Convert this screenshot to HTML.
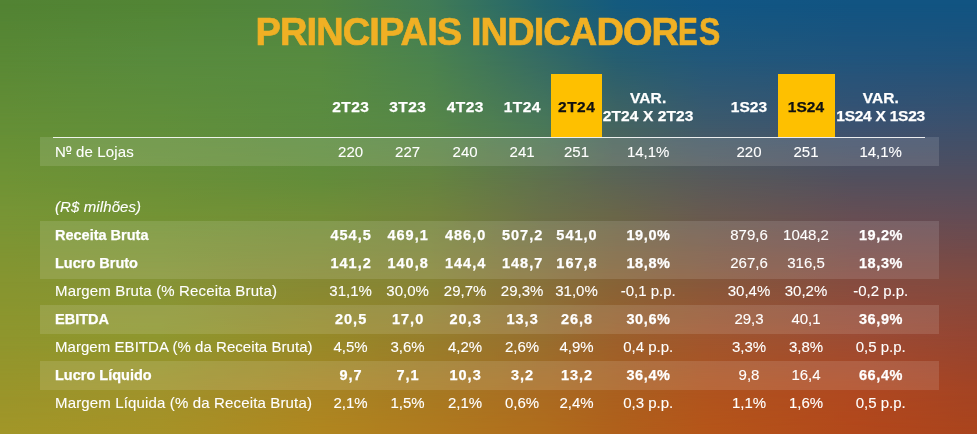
<!DOCTYPE html>
<html><head><meta charset="utf-8"><title>Principais Indicadores</title>
<style>
html,body{margin:0;padding:0;}
body{width:977px;height:434px;position:relative;overflow:hidden;font-family:"Liberation Sans",Arial,sans-serif;color:#fff;}
.txt{position:absolute;left:0;top:0;width:977px;height:434px;will-change:transform;}
.bgs{position:absolute;left:0;width:977px;}
.bgm{position:absolute;inset:0;-webkit-mask-image:linear-gradient(to bottom,transparent,#000);mask-image:linear-gradient(to bottom,transparent,#000);}
.title{position:absolute;left:1.2px;width:977px;text-align:center;color:#f0b024;-webkit-text-stroke:0.7px #f0b024;font-weight:bold;font-size:38px;line-height:60px;letter-spacing:-0.9px;top:2.0px;white-space:nowrap;}
.nx{display:inline-block;transform-origin:0 0;}
.ybox{position:absolute;background:#fec000;top:74px;height:63px;}
.band{position:absolute;left:40px;width:899px;background:rgba(255,255,255,0.12);}
.line{position:absolute;left:53px;width:872px;top:136.5px;height:1.5px;background:rgba(255,255,255,0.88);}
.lab,.c{-webkit-text-stroke:0.25px currentColor;position:absolute;font-size:14.5px;line-height:20px;white-space:nowrap;}
.lab{left:55px;}
.c{width:100px;text-align:center;}
.b{font-weight:bold;}
.h{font-size:15.5px;}
.dk{color:#111;}
.it{font-style:italic;font-size:15px;letter-spacing:0.1px;-webkit-text-stroke-width:0.1px;}
.ord{position:relative;}
.ord::after{content:'';position:absolute;left:1px;right:1px;top:10.0px;height:1.3px;background:#fff;}
.r{font-size:15px;-webkit-text-stroke-width:0.1px;}
.lab.r{letter-spacing:0.15px;}
</style></head><body>
<div class="bgs" style="top:0;height:4px;background:linear-gradient(to right, #528333 0.51%, #528535 16.38%, #4f8540 32.75%, #417c55 44.01%, #22646e 55.78%, #145a7e 63.15%, #115684 72.16%, #115482 87.51%, #115482 99.49%)"></div>
<div class="bgs" style="top:4px;height:56px;background:linear-gradient(to right, #528333 0.51%, #528535 16.38%, #4f8540 32.75%, #417c55 44.01%, #22646e 55.78%, #145a7e 63.15%, #115684 72.16%, #115482 87.51%, #115482 99.49%)"><div class="bgm" style="background:linear-gradient(to right, #5a8935 0.51%, #588b3d 16.38%, #578b40 32.75%, #4b834e 44.01%, #356b64 55.78%, #265e70 63.15%, #22587a 72.16%, #21547c 87.51%, #21527a 99.49%)"></div></div>
<div class="bgs" style="top:60px;height:68px;background:linear-gradient(to right, #5a8935 0.51%, #588b3d 16.38%, #578b40 32.75%, #4b834e 44.01%, #356b64 55.78%, #265e70 63.15%, #22587a 72.16%, #21547c 87.51%, #21527a 99.49%)"><div class="bgm" style="background:linear-gradient(to right, #658f36 0.51%, #618f3a 16.38%, #5b8c40 32.75%, #578748 44.01%, #4a7858 55.78%, #45645f 63.15%, #3f5a6b 72.16%, #3c5270 87.51%, #3d506c 99.49%)"></div></div>
<div class="bgs" style="top:128px;height:50px;background:linear-gradient(to right, #658f36 0.51%, #618f3a 16.38%, #5b8c40 32.75%, #578748 44.01%, #4a7858 55.78%, #45645f 63.15%, #3f5a6b 72.16%, #3c5270 87.51%, #3d506c 99.49%)"><div class="bgm" style="background:linear-gradient(to right, #6f9335 0.51%, #6a9038 16.38%, #638d3a 32.75%, #658540 44.01%, #5f714e 55.78%, #5b6455 63.15%, #585a5a 72.16%, #52505e 87.51%, #524e5e 99.49%)"></div></div>
<div class="bgs" style="top:178px;height:38px;background:linear-gradient(to right, #6f9335 0.51%, #6a9038 16.38%, #638d3a 32.75%, #658540 44.01%, #5f714e 55.78%, #5b6455 63.15%, #585a5a 72.16%, #52505e 87.51%, #524e5e 99.49%)"><div class="bgm" style="background:linear-gradient(to right, #789535 0.51%, #739335 16.38%, #718e37 32.75%, #72843c 44.01%, #6b7048 55.78%, #6a6649 63.15%, #685a50 72.16%, #664e54 87.51%, #634c55 99.49%)"></div></div>
<div class="bgs" style="top:216px;height:66px;background:linear-gradient(to right, #789535 0.51%, #739335 16.38%, #718e37 32.75%, #72843c 44.01%, #6b7048 55.78%, #6a6649 63.15%, #685a50 72.16%, #664e54 87.51%, #634c55 99.49%)"><div class="bgm" style="background:linear-gradient(to right, #869530 0.51%, #869436 16.38%, #878933 32.75%, #878435 44.01%, #87703a 55.78%, #876337 63.15%, #87583b 72.16%, #864c40 87.51%, #824a40 99.49%)"></div></div>
<div class="bgs" style="top:282px;height:55px;background:linear-gradient(to right, #869530 0.51%, #869436 16.38%, #878933 32.75%, #878435 44.01%, #87703a 55.78%, #876337 63.15%, #87583b 72.16%, #864c40 87.51%, #824a40 99.49%)"><div class="bgm" style="background:linear-gradient(to right, #8f962d 0.51%, #8f972e 16.38%, #968a28 32.75%, #977e2c 44.01%, #976e2f 55.78%, #9c602c 63.15%, #a0562e 72.16%, #9c4c34 87.51%, #954532 99.49%)"></div></div>
<div class="bgs" style="top:337px;height:56px;background:linear-gradient(to right, #8f962d 0.51%, #8f972e 16.38%, #968a28 32.75%, #977e2c 44.01%, #976e2f 55.78%, #9c602c 63.15%, #a0562e 72.16%, #9c4c34 87.51%, #954532 99.49%)"><div class="bgm" style="background:linear-gradient(to right, #9a952a 0.51%, #a0922a 16.38%, #a88524 32.75%, #a77a22 44.01%, #aa6b22 55.78%, #aa601f 63.15%, #b0541e 72.16%, #b04820 87.51%, #a54423 99.49%)"></div></div>
<div class="bgs" style="top:393px;height:37px;background:linear-gradient(to right, #9a952a 0.51%, #a0922a 16.38%, #a88524 32.75%, #a77a22 44.01%, #aa6b22 55.78%, #aa601f 63.15%, #b0541e 72.16%, #b04820 87.51%, #a54423 99.49%)"><div class="bgm" style="background:linear-gradient(to right, #a19628 0.51%, #a69227 16.38%, #b0861f 32.75%, #b07a1e 44.01%, #b06c1c 55.78%, #b0601b 63.15%, #b55519 72.16%, #b2481b 87.51%, #aa441d 99.49%)"></div></div>
<div class="bgs" style="top:430px;height:4px;background:linear-gradient(to right, #a19628 0.51%, #a69227 16.38%, #b0861f 32.75%, #b07a1e 44.01%, #b06c1c 55.78%, #b0601b 63.15%, #b55519 72.16%, #b2481b 87.51%, #aa441d 99.49%)"></div>
<div class="txt">
<div class="title">PRINCIPAIS INDICADOR<span class="nx" style="transform:scaleX(0.78);margin-right:-3.3px">E</span><span class="nx" style="transform:scaleX(0.84)">S</span></div>
<div class="ybox" style="left:551px;width:51px"></div>
<div class="ybox" style="left:778px;width:57px"></div>
<div class="band" style="top:137px;height:29px"></div>
<div class="band" style="top:221px;height:57.5px"></div>
<div class="band" style="top:305px;height:29px"></div>
<div class="band" style="top:361px;height:28.6px"></div>
<div class="line"></div>
<span class="c b h" style="left:300.8px;top:97.0px;letter-spacing:0.45px">2T23</span>
<span class="c b h" style="left:357.8px;top:97.0px;letter-spacing:0.45px">3T23</span>
<span class="c b h" style="left:415.3px;top:97.0px;letter-spacing:0.45px">4T23</span>
<span class="c b h" style="left:472.3px;top:97.0px;letter-spacing:0.45px">1T24</span>
<span class="c b h dk" style="left:526.7px;top:97.0px;letter-spacing:0.45px">2T24</span>
<span class="c b h" style="left:699.0px;top:97.0px;letter-spacing:0.05px">1S23</span>
<span class="c b h dk" style="left:756.0px;top:97.0px;letter-spacing:0.05px">1S24</span>
<span class="c b h" style="left:588.2px;width:120px;top:88.0px;letter-spacing:0.1px">VAR.</span>
<span class="c b h" style="left:588.2px;width:120px;top:106.2px;letter-spacing:0.1px">2T24 X 2T23</span>
<span class="c b h" style="left:820.8px;width:120px;top:88.0px;letter-spacing:0.1px">VAR.</span>
<span class="c b h" style="left:820.6px;width:120px;top:106.2px;letter-spacing:-0.25px">1S24 X 1S23</span>
<span class="lab r" style="top:141.9px">N<span class="ord">º</span> de Lojas</span>
<span class="c r" style="left:300.6px;top:141.9px">220</span>
<span class="c r" style="left:357.6px;top:141.9px">227</span>
<span class="c r" style="left:415.1px;top:141.9px">240</span>
<span class="c r" style="left:472.1px;top:141.9px">241</span>
<span class="c r" style="left:526.5px;top:141.9px">251</span>
<span class="c r" style="left:598.2px;top:141.9px">14,1%</span>
<span class="c r" style="left:699.0px;top:141.9px">220</span>
<span class="c r" style="left:756.0px;top:141.9px">251</span>
<span class="c r" style="left:830.7px;top:141.9px">14,1%</span>
<span class="lab it" style="top:196.5px">(R$ milhões)</span>
<span class="lab b" style="top:225.4px">Receita Bruta</span>
<span class="c b" style="left:301.1px;top:225.4px;letter-spacing:1.0px">454,5</span>
<span class="c b" style="left:358.1px;top:225.4px;letter-spacing:1.0px">469,1</span>
<span class="c b" style="left:415.6px;top:225.4px;letter-spacing:1.0px">486,0</span>
<span class="c b" style="left:472.6px;top:225.4px;letter-spacing:1.0px">507,2</span>
<span class="c b" style="left:527.0px;top:225.4px;letter-spacing:1.0px">541,0</span>
<span class="c b" style="left:598.5px;top:225.4px;letter-spacing:0.6px">19,0%</span>
<span class="c r" style="left:699.0px;top:225.4px;letter-spacing:0.0px">879,6</span>
<span class="c r" style="left:756.0px;top:225.4px;letter-spacing:0.0px">1048,2</span>
<span class="c b" style="left:831.0px;top:225.4px;letter-spacing:0.6px">19,2%</span>
<span class="lab b" style="top:253.3px">Lucro Bruto</span>
<span class="c b" style="left:301.1px;top:253.3px;letter-spacing:1.0px">141,2</span>
<span class="c b" style="left:358.1px;top:253.3px;letter-spacing:1.0px">140,8</span>
<span class="c b" style="left:415.6px;top:253.3px;letter-spacing:1.0px">144,4</span>
<span class="c b" style="left:472.6px;top:253.3px;letter-spacing:1.0px">148,7</span>
<span class="c b" style="left:527.0px;top:253.3px;letter-spacing:1.0px">167,8</span>
<span class="c b" style="left:598.5px;top:253.3px;letter-spacing:0.6px">18,8%</span>
<span class="c r" style="left:699.0px;top:253.3px;letter-spacing:0.0px">267,6</span>
<span class="c r" style="left:756.0px;top:253.3px;letter-spacing:0.0px">316,5</span>
<span class="c b" style="left:831.0px;top:253.3px;letter-spacing:0.6px">18,3%</span>
<span class="lab r" style="top:281.2px">Margem Bruta (% Receita Bruta)</span>
<span class="c r" style="left:300.6px;top:281.2px;letter-spacing:0.0px">31,1%</span>
<span class="c r" style="left:357.6px;top:281.2px;letter-spacing:0.0px">30,0%</span>
<span class="c r" style="left:415.1px;top:281.2px;letter-spacing:0.0px">29,7%</span>
<span class="c r" style="left:472.1px;top:281.2px;letter-spacing:0.0px">29,3%</span>
<span class="c r" style="left:526.5px;top:281.2px;letter-spacing:0.0px">31,0%</span>
<span class="c r" style="left:598.2px;top:281.2px;letter-spacing:0.0px">-0,1 p.p.</span>
<span class="c r" style="left:699.0px;top:281.2px;letter-spacing:0.0px">30,4%</span>
<span class="c r" style="left:756.0px;top:281.2px;letter-spacing:0.0px">30,2%</span>
<span class="c r" style="left:830.7px;top:281.2px;letter-spacing:0.0px">-0,2 p.p.</span>
<span class="lab b" style="top:309.1px">EBITDA</span>
<span class="c b" style="left:301.1px;top:309.1px;letter-spacing:1.0px">20,5</span>
<span class="c b" style="left:358.1px;top:309.1px;letter-spacing:1.0px">17,0</span>
<span class="c b" style="left:415.6px;top:309.1px;letter-spacing:1.0px">20,3</span>
<span class="c b" style="left:472.6px;top:309.1px;letter-spacing:1.0px">13,3</span>
<span class="c b" style="left:527.0px;top:309.1px;letter-spacing:1.0px">26,8</span>
<span class="c b" style="left:598.5px;top:309.1px;letter-spacing:0.6px">30,6%</span>
<span class="c r" style="left:699.0px;top:309.1px;letter-spacing:0.0px">29,3</span>
<span class="c r" style="left:756.0px;top:309.1px;letter-spacing:0.0px">40,1</span>
<span class="c b" style="left:831.0px;top:309.1px;letter-spacing:0.6px">36,9%</span>
<span class="lab r" style="top:337.0px;letter-spacing:0.05px">Margem EBITDA (% da Receita Bruta)</span>
<span class="c r" style="left:300.6px;top:337.0px;letter-spacing:0.0px">4,5%</span>
<span class="c r" style="left:357.6px;top:337.0px;letter-spacing:0.0px">3,6%</span>
<span class="c r" style="left:415.1px;top:337.0px;letter-spacing:0.0px">4,2%</span>
<span class="c r" style="left:472.1px;top:337.0px;letter-spacing:0.0px">2,6%</span>
<span class="c r" style="left:526.5px;top:337.0px;letter-spacing:0.0px">4,9%</span>
<span class="c r" style="left:598.2px;top:337.0px;letter-spacing:0.0px">0,4 p.p.</span>
<span class="c r" style="left:699.0px;top:337.0px;letter-spacing:0.0px">3,3%</span>
<span class="c r" style="left:756.0px;top:337.0px;letter-spacing:0.0px">3,8%</span>
<span class="c r" style="left:830.7px;top:337.0px;letter-spacing:0.0px">0,5 p.p.</span>
<span class="lab b" style="top:364.9px">Lucro Líquido</span>
<span class="c b" style="left:301.1px;top:364.9px;letter-spacing:1.0px">9,7</span>
<span class="c b" style="left:358.1px;top:364.9px;letter-spacing:1.0px">7,1</span>
<span class="c b" style="left:415.6px;top:364.9px;letter-spacing:1.0px">10,3</span>
<span class="c b" style="left:472.6px;top:364.9px;letter-spacing:1.0px">3,2</span>
<span class="c b" style="left:527.0px;top:364.9px;letter-spacing:1.0px">13,2</span>
<span class="c b" style="left:598.5px;top:364.9px;letter-spacing:0.6px">36,4%</span>
<span class="c r" style="left:699.0px;top:364.9px;letter-spacing:0.0px">9,8</span>
<span class="c r" style="left:756.0px;top:364.9px;letter-spacing:0.0px">16,4</span>
<span class="c b" style="left:831.0px;top:364.9px;letter-spacing:0.6px">66,4%</span>
<span class="lab r" style="top:392.8px">Margem Líquida (% da Receita Bruta)</span>
<span class="c r" style="left:300.6px;top:392.8px;letter-spacing:0.0px">2,1%</span>
<span class="c r" style="left:357.6px;top:392.8px;letter-spacing:0.0px">1,5%</span>
<span class="c r" style="left:415.1px;top:392.8px;letter-spacing:0.0px">2,1%</span>
<span class="c r" style="left:472.1px;top:392.8px;letter-spacing:0.0px">0,6%</span>
<span class="c r" style="left:526.5px;top:392.8px;letter-spacing:0.0px">2,4%</span>
<span class="c r" style="left:598.2px;top:392.8px;letter-spacing:0.0px">0,3 p.p.</span>
<span class="c r" style="left:699.0px;top:392.8px;letter-spacing:0.0px">1,1%</span>
<span class="c r" style="left:756.0px;top:392.8px;letter-spacing:0.0px">1,6%</span>
<span class="c r" style="left:830.7px;top:392.8px;letter-spacing:0.0px">0,5 p.p.</span>
</div>
</body></html>
